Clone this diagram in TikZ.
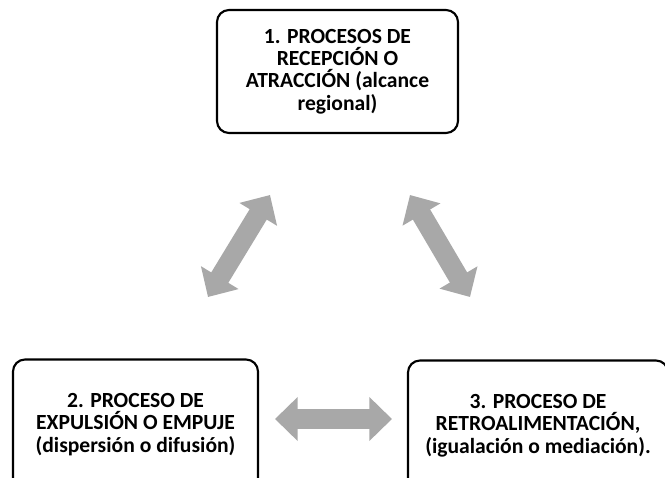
\documentclass[tikz,border=0pt]{standalone}
\usepackage{fontspec}
\setmainfont{Carlito}
\usetikzlibrary{arrows.meta}
\definecolor{arrowgray}{RGB}{168,168,168}
\begin{document}
\begin{tikzpicture}[x=0.75pt,y=-0.75pt,
  procbox/.style={draw, line width=1.6pt, rounded corners=9pt, align=center,
    font=\bfseries\fontsize{16.2}{16.8}\selectfont, inner sep=0pt},
  biarrow/.style={arrowgray, line width=15pt,
    {Triangle[width=32pt,length=17pt]}-{Triangle[width=32pt,length=17pt]}}]
  \useasboundingbox (0,0) rectangle (665,478);

  % the three processes
  \node[procbox, minimum width=180.75pt, minimum height=92.25pt] (p1) at (337.5,71.5)
    {1. PROCESOS DE\\RECEPCIÓN O\\ATRACCIÓN (alcance\\regional)};
  \node[procbox, minimum width=183.75pt, minimum height=97.5pt] (p2) at (135.5,424.5)
    {2. PROCESO DE\\EXPULSIÓN O EMPUJE\\(dispersión o difusión)};
  \node[procbox, minimum width=195pt, minimum height=97.5pt] (p3) at (538,425.5)
    {3. PROCESO DE\\RETROALIMENTACIÓN,\\(igualación o mediación).};

  % arrow ends
  \coordinate (l1) at (208,297);  % left, bottom
  \coordinate (l2) at (270,195);  % left, top
  \coordinate (r1) at (410,195);  % right, top
  \coordinate (r2) at (470,297);  % right, bottom
  \coordinate (h1) at (275,419);  % bottom, left
  \coordinate (h2) at (392,419);  % bottom, right

  \draw[biarrow] (l1) -- (l2);
  \draw[biarrow] (r1) -- (r2);
  \draw[biarrow] (h1) -- (h2);
\end{tikzpicture}
\end{document}
